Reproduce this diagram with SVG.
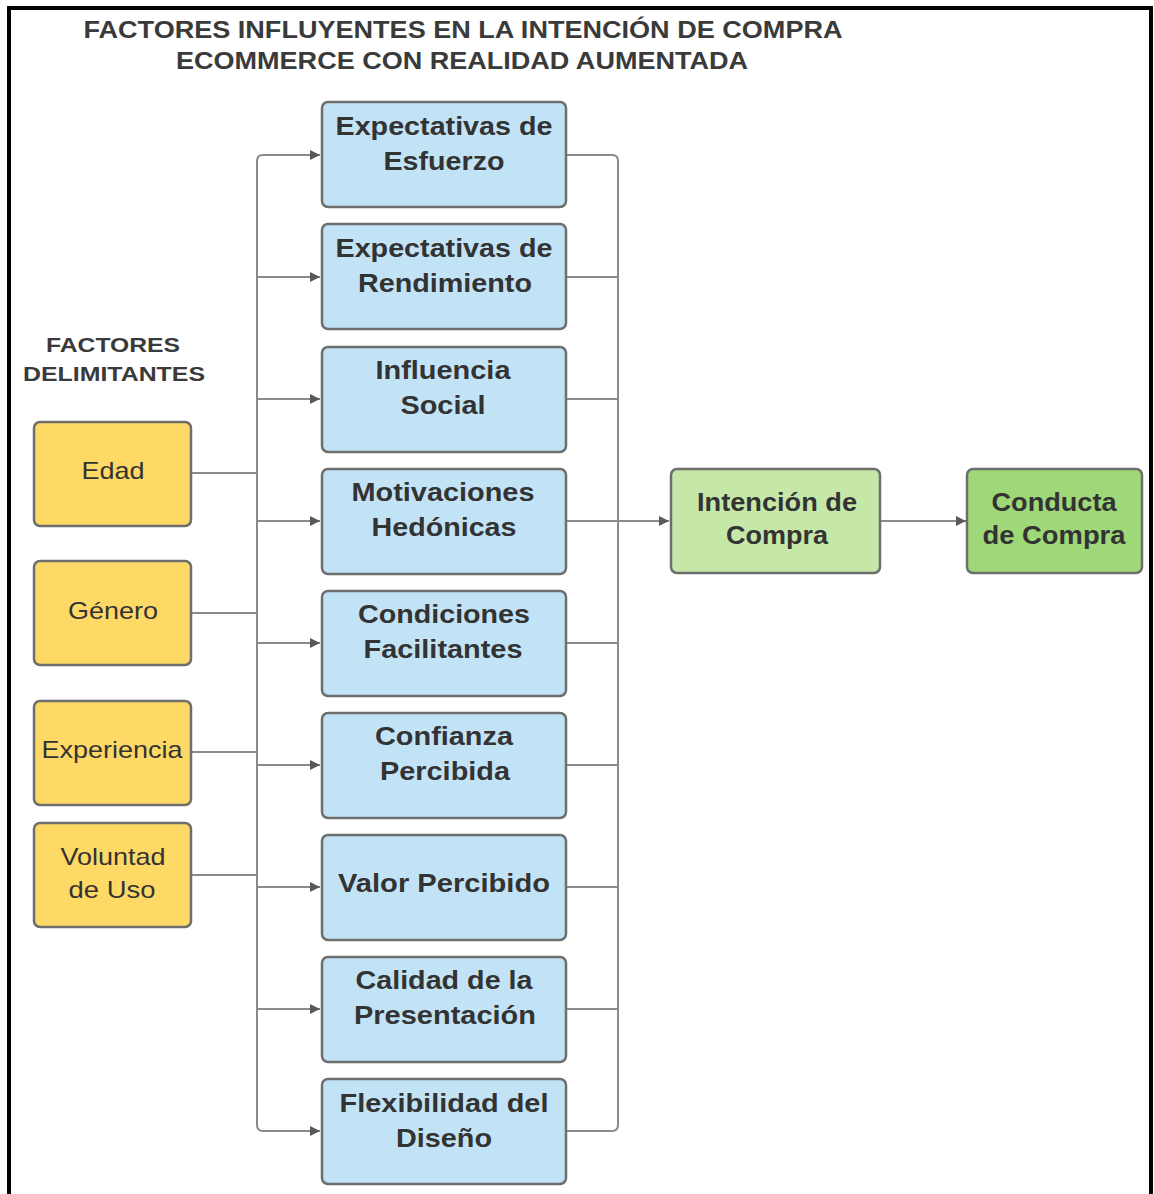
<svg xmlns="http://www.w3.org/2000/svg" width="1154" height="1194" viewBox="0 0 1154 1194">
  <style>
    .frame { fill: #ffffff; stroke: #000000; stroke-width: 4; }
    .title { font-family: "Liberation Sans", Arial, sans-serif; font-weight: bold; font-size: 24px; fill: #3a3a3a; text-anchor: middle; }
    .label { font-family: "Liberation Sans", Arial, sans-serif; font-weight: bold; font-size: 21px; fill: #3a3a3a; text-anchor: middle; }
    .box { stroke: #6e6e6e; stroke-width: 2.5; }
    .blue { fill: #c2e3f6; }
    .yellow { fill: #ffd966; }
    .green1 { fill: #c5e8a9; }
    .green2 { fill: #9ed878; }
    .bt { font-family: "Liberation Sans", Arial, sans-serif; font-weight: bold; font-size: 26px; fill: #333333; text-anchor: middle; }
    .yt { font-family: "Liberation Sans", Arial, sans-serif; font-size: 24px; fill: #333333; text-anchor: middle; }
    .wire { fill: none; stroke: #8a8a8a; stroke-width: 2; }
    text { lengthAdjust: spacingAndGlyphs; }
  </style>
  <defs>
    <marker id="arrow" viewBox="0 0 10 10" refX="10" refY="5" markerWidth="14" markerHeight="10" markerUnits="userSpaceOnUse" orient="auto">
      <path d="M0,0 L10,5 L0,10 z" fill="#5a5a5a"/>
    </marker>
  </defs>

  <rect x="0" y="0" width="1154" height="1194" fill="#ffffff"/>
  <rect class="frame" x="9" y="8" width="1142" height="1200"/>

  <text class="title" x="463" y="38" textLength="759" lengthAdjust="spacingAndGlyphs">FACTORES INFLUYENTES EN LA INTENCIÓN DE COMPRA</text>
  <text class="title" x="462" y="69" textLength="572" lengthAdjust="spacingAndGlyphs">ECOMMERCE CON REALIDAD AUMENTADA</text>
  <text class="label" x="113" y="352" textLength="134" lengthAdjust="spacingAndGlyphs">FACTORES</text>
  <text class="label" x="114" y="381" textLength="182" lengthAdjust="spacingAndGlyphs">DELIMITANTES</text>

  <!-- connectors -->
  <g id="connectors">
    <!-- left bus -->
    <path class="wire" d="M257,1125 L257,161 Q257,155 263,155 L320,155" marker-end="url(#arrow)"/>
    <path class="wire" d="M257,1125 Q257,1131 263,1131 L320,1131" marker-end="url(#arrow)"/>
    <path class="wire" d="M257,277 L320,277" marker-end="url(#arrow)"/>
    <path class="wire" d="M257,399 L320,399" marker-end="url(#arrow)"/>
    <path class="wire" d="M257,521 L320,521" marker-end="url(#arrow)"/>
    <path class="wire" d="M257,643 L320,643" marker-end="url(#arrow)"/>
    <path class="wire" d="M257,765 L320,765" marker-end="url(#arrow)"/>
    <path class="wire" d="M257,887 L320,887" marker-end="url(#arrow)"/>
    <path class="wire" d="M257,1009 L320,1009" marker-end="url(#arrow)"/>
    <!-- limiting factors to bus -->
    <path class="wire" d="M191,473 L257,473"/>
    <path class="wire" d="M191,613 L257,613"/>
    <path class="wire" d="M191,752 L257,752"/>
    <path class="wire" d="M191,875 L257,875"/>
    <!-- right bus -->
    <path class="wire" d="M566,155 L612,155 Q618,155 618,161 L618,1125 Q618,1131 612,1131 L566,1131"/>
    <path class="wire" d="M566,277 L618,277"/>
    <path class="wire" d="M566,399 L618,399"/>
    <path class="wire" d="M566,643 L618,643"/>
    <path class="wire" d="M566,765 L618,765"/>
    <path class="wire" d="M566,887 L618,887"/>
    <path class="wire" d="M566,1009 L618,1009"/>
    <path class="wire" d="M566,521 L669,521" marker-end="url(#arrow)"/>
    <path class="wire" d="M880,521 L966,521" marker-end="url(#arrow)"/>
  </g>

  <!-- central factors -->
  <g id="n-esfuerzo">
    <rect class="box blue" x="322" y="102" width="244" height="105" rx="6"/>
    <text class="bt" x="444" y="135" textLength="217" lengthAdjust="spacingAndGlyphs">Expectativas de</text>
    <text class="bt" x="444" y="170" textLength="121" lengthAdjust="spacingAndGlyphs">Esfuerzo</text>
  </g>
  <g id="n-rendimiento">
    <rect class="box blue" x="322" y="224" width="244" height="105" rx="6"/>
    <text class="bt" x="444" y="257" textLength="217" lengthAdjust="spacingAndGlyphs">Expectativas de</text>
    <text class="bt" x="445" y="292" textLength="174" lengthAdjust="spacingAndGlyphs">Rendimiento</text>
  </g>
  <g id="n-social">
    <rect class="box blue" x="322" y="347" width="244" height="105" rx="6"/>
    <text class="bt" x="443" y="379" textLength="135" lengthAdjust="spacingAndGlyphs">Influencia</text>
    <text class="bt" x="443" y="414" textLength="85" lengthAdjust="spacingAndGlyphs">Social</text>
  </g>
  <g id="n-hedonicas">
    <rect class="box blue" x="322" y="469" width="244" height="105" rx="6"/>
    <text class="bt" x="443" y="501" textLength="183" lengthAdjust="spacingAndGlyphs">Motivaciones</text>
    <text class="bt" x="444" y="536" textLength="145" lengthAdjust="spacingAndGlyphs">Hedónicas</text>
  </g>
  <g id="n-facilitantes">
    <rect class="box blue" x="322" y="591" width="244" height="105" rx="6"/>
    <text class="bt" x="444" y="623" textLength="172" lengthAdjust="spacingAndGlyphs">Condiciones</text>
    <text class="bt" x="443" y="658" textLength="159" lengthAdjust="spacingAndGlyphs">Facilitantes</text>
  </g>
  <g id="n-confianza">
    <rect class="box blue" x="322" y="713" width="244" height="105" rx="6"/>
    <text class="bt" x="444" y="745" textLength="138" lengthAdjust="spacingAndGlyphs">Confianza</text>
    <text class="bt" x="445" y="780" textLength="130" lengthAdjust="spacingAndGlyphs">Percibida</text>
  </g>
  <g id="n-valor">
    <rect class="box blue" x="322" y="835" width="244" height="105" rx="6"/>
    <text class="bt" x="444" y="892" textLength="212" lengthAdjust="spacingAndGlyphs">Valor Percibido</text>
  </g>
  <g id="n-calidad">
    <rect class="box blue" x="322" y="957" width="244" height="105" rx="6"/>
    <text class="bt" x="444" y="989" textLength="177" lengthAdjust="spacingAndGlyphs">Calidad de la</text>
    <text class="bt" x="445" y="1024" textLength="182" lengthAdjust="spacingAndGlyphs">Presentación</text>
  </g>
  <g id="n-flexibilidad">
    <rect class="box blue" x="322" y="1079" width="244" height="105" rx="6"/>
    <text class="bt" x="444" y="1112" textLength="209" lengthAdjust="spacingAndGlyphs">Flexibilidad del</text>
    <text class="bt" x="444" y="1147" textLength="96" lengthAdjust="spacingAndGlyphs">Diseño</text>
  </g>

  <!-- limiting factors -->
  <g id="n-edad">
    <rect class="box yellow" x="34" y="422" width="157" height="104" rx="6"/>
    <text class="yt" x="113" y="479" textLength="63" lengthAdjust="spacingAndGlyphs">Edad</text>
  </g>
  <g id="n-genero">
    <rect class="box yellow" x="34" y="561" width="157" height="104" rx="6"/>
    <text class="yt" x="113" y="619" textLength="90" lengthAdjust="spacingAndGlyphs">Género</text>
  </g>
  <g id="n-experiencia">
    <rect class="box yellow" x="34" y="701" width="157" height="104" rx="6"/>
    <text class="yt" x="112" y="758" textLength="141" lengthAdjust="spacingAndGlyphs">Experiencia</text>
  </g>
  <g id="n-voluntad">
    <rect class="box yellow" x="34" y="823" width="157" height="104" rx="6"/>
    <text class="yt" x="113" y="865" textLength="105" lengthAdjust="spacingAndGlyphs">Voluntad</text>
    <text class="yt" x="112" y="898" textLength="87" lengthAdjust="spacingAndGlyphs">de Uso</text>
  </g>

  <!-- outcomes -->
  <g id="n-intencion">
    <rect class="box green1" x="671" y="469" width="209" height="104" rx="6"/>
    <text class="bt" x="777" y="511" textLength="160" lengthAdjust="spacingAndGlyphs">Intención de</text>
    <text class="bt" x="777" y="544" textLength="102" lengthAdjust="spacingAndGlyphs">Compra</text>
  </g>
  <g id="n-conducta">
    <rect class="box green2" x="967" y="469" width="175" height="104" rx="6"/>
    <text class="bt" x="1054" y="511" textLength="125" lengthAdjust="spacingAndGlyphs">Conducta</text>
    <text class="bt" x="1054" y="544" textLength="143" lengthAdjust="spacingAndGlyphs">de Compra</text>
  </g>
</svg>
